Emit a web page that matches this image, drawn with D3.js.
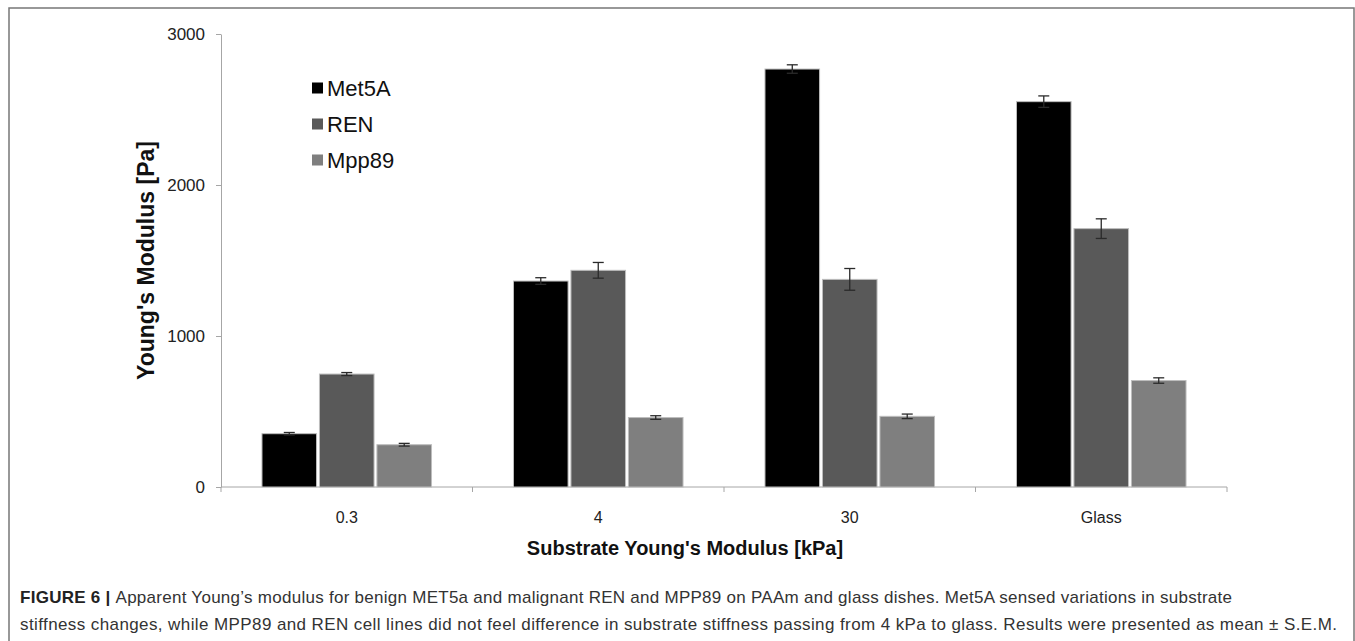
<!DOCTYPE html>
<html>
<head>
<meta charset="utf-8">
<script src="https://d3js.org/d3.v7.min.js"></script>
<style>
    body { margin: 0; background: #fff; }
    svg text { font-family: "Liberation Sans", Arial, sans-serif; }
</style>
</head>
<body>
<svg id="chart" width="1355" height="641"></svg>
<script>
    // substrate stiffness groups
    var categories = ["0.3", "4", "30", "Glass"];
    var series = ["Met5A", "REN", "Mpp89"];
    var colors = ["#000000", "#595959", "#7f7f7f"];
    // mean values [Pa]
    var met5a = [353, 1364, 2768, 2552];
    var ren = [748, 1435, 1375, 1711];
    var mpp89 = [280, 460, 468, 705];
    // S.E.M.
    var met5aErr = [8, 22, 28, 38];
    var renErr = [10, 52, 72, 65];
    var mpp89Err = [9, 12, 15, 18];
    var yTicks = [0, 1000, 2000, 3000];

    var values = [met5a, ren, mpp89];
    var errors = [met5aErr, renErr, mpp89Err];
    var data = [];
    categories.forEach(function(c, i) {
        series.forEach(function(s, j) {
            data.push({cat: c, series: s, color: colors[j], value: values[j][i], err: errors[j][i]});
        });
    });

    var margin = {top: 34, right: 128, bottom: 154, left: 221};
    var svg = d3.select('#chart');
    var width = +svg.attr('width');
    var height = +svg.attr('height');

    // outer frame of the figure
    svg.append("rect")
        .attr("x", 9).attr("y", 8)
        .attr("width", 1345).attr("height", 660)
        .attr("fill", "none")
        .attr("stroke", "#777")
        .attr("stroke-width", 1.5);

    var x0 = d3.scaleBand()
        .domain(categories)
        .range([margin.left, width - margin.right]);
    var x1 = d3.scaleBand()
        .domain(series)
        .range([0, x0.bandwidth()])
        .paddingInner(0.05)
        .paddingOuter(0.713);
    var y = d3.scaleLinear()
        .domain([0, 3000])
        .range([height - margin.bottom, margin.top]);

    // y axis
    var yAxis = g => g
        .attr("transform", `translate(${margin.left},0)`)
        .call(d3.axisLeft(y).tickValues(yTicks).tickFormat(d3.format("d"))
            .tickSize(5).tickPadding(11).tickSizeOuter(0))
        .call(g => g.selectAll(".domain, line").attr("stroke", "#a6a6a6"))
        .call(g => g.selectAll("text").attr("fill", "#222").attr("font-size", 17)
            .attr("font-family", "Liberation Sans, Arial, sans-serif"));
    svg.append("g").call(yAxis);

    // x axis: line with ticks at the group boundaries
    var xg = svg.append("g");
    xg.append("line")
        .attr("x1", margin.left).attr("x2", width - margin.right)
        .attr("y1", y(0)).attr("y2", y(0))
        .attr("stroke", "#a6a6a6");
    xg.selectAll("line.tick")
        .data(categories)
        .join("line")
        .attr("class", "tick")
        .attr("x1", d => x0(d) + x0.bandwidth()).attr("x2", d => x0(d) + x0.bandwidth())
        .attr("y1", y(0)).attr("y2", y(0) + 5)
        .attr("stroke", "#a6a6a6");
    xg.append("line")
        .attr("x1", margin.left).attr("x2", margin.left)
        .attr("y1", y(0)).attr("y2", y(0) + 5)
        .attr("stroke", "#a6a6a6");
    xg.selectAll("text")
        .data(categories)
        .join("text")
        .attr("x", d => x0(d) + x0.bandwidth() / 2)
        .attr("y", y(0) + 36)
        .attr("text-anchor", "middle")
        .attr("font-size", 16)
        .attr("fill", "#222")
        .text(d => d);

    // bars
    svg.append("g")
        .selectAll("rect")
        .data(data)
        .join("rect")
        .attr("x", d => x0(d.cat) + x1(d.series))
        .attr("y", d => y(d.value))
        .attr("width", x1.bandwidth())
        .attr("height", d => y(0) - y(d.value))
        .attr("fill", d => d.color)
        .attr("stroke", "#bdbdbd")
        .attr("stroke-width", 1);

    // error bars
    var eb = svg.append("g")
        .attr("stroke", "#2a2a2a")
        .attr("stroke-width", 1.3)
        .selectAll("g")
        .data(data)
        .join("g")
        .attr("transform", d => `translate(${x0(d.cat) + x1(d.series) + x1.bandwidth() / 2},0)`);
    eb.append("line")
        .attr("y1", d => y(d.value - d.err)).attr("y2", d => y(d.value + d.err));
    eb.append("line")
        .attr("x1", -5.5).attr("x2", 5.5)
        .attr("y1", d => y(d.value + d.err)).attr("y2", d => y(d.value + d.err));
    eb.append("line")
        .attr("x1", -5.5).attr("x2", 5.5)
        .attr("y1", d => y(d.value - d.err)).attr("y2", d => y(d.value - d.err));

    // legend
    var legend = svg.append("g")
        .selectAll("g")
        .data(series)
        .join("g")
        .attr("transform", (d, i) => `translate(312,${88 + i * 36})`);
    legend.append("rect")
        .attr("x", 0).attr("y", -5.5)
        .attr("width", 11).attr("height", 11)
        .attr("fill", (d, i) => colors[i]);
    legend.append("text")
        .attr("x", 15).attr("y", 8)
        .attr("font-size", 22)
        .attr("fill", "#111")
        .text(d => d);

    // axis titles
    svg.append("text")
        .attr("transform", `translate(154,${(y(0) + y(3000)) / 2}) rotate(-90)`)
        .attr("text-anchor", "middle")
        .attr("font-size", 23)
        .attr("font-weight", "bold")
        .attr("fill", "#111")
        .text("Young's Modulus [Pa]");
    svg.append("text")
        .attr("x", 685).attr("y", 555)
        .attr("text-anchor", "middle")
        .attr("font-size", 20)
        .attr("font-weight", "bold")
        .attr("fill", "#111")
        .text("Substrate Young's Modulus [kPa]");

    // caption
    var cap1 = svg.append("text")
        .attr("x", 20).attr("y", 603)
        .attr("font-size", 17)
        .attr("fill", "#333")
        .attr("textLength", 1212)
        .attr("lengthAdjust", "spacing");
    cap1.append("tspan").attr("font-weight", "bold").attr("fill", "#222").text("FIGURE 6 | ");
    cap1.append("tspan").text("Apparent Young\u2019s modulus for benign MET5a and malignant REN and MPP89 on PAAm and glass dishes. Met5A sensed variations in substrate");
    svg.append("text")
        .attr("x", 20).attr("y", 630)
        .attr("font-size", 17)
        .attr("fill", "#333")
        .attr("textLength", 1317)
        .attr("lengthAdjust", "spacing")
        .text("stiffness changes, while MPP89 and REN cell lines did not feel difference in substrate stiffness passing from 4 kPa to glass. Results were presented as mean \u00b1 S.E.M.");
</script>
</body>
</html>
